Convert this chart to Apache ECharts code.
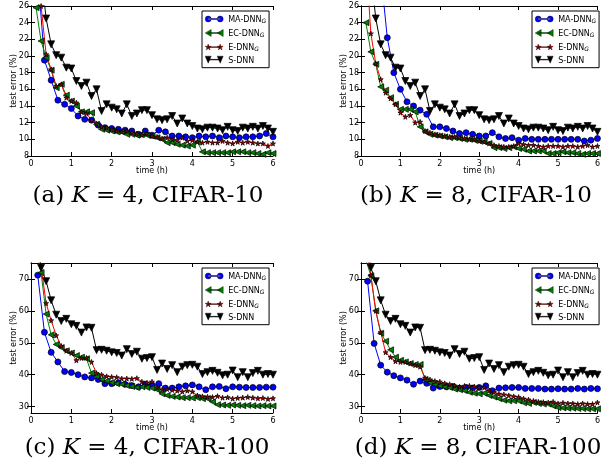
<!DOCTYPE html>
<html><head><meta charset="utf-8">
<script src="https://cdn.jsdelivr.net/npm/echarts@6/dist/echarts.min.js"></script>
<style>html,body{margin:0;padding:0;background:#fff}#c{width:603px;height:470px}</style>
</head><body><div id="c"></div>
<script>
// time samples (hours)
const T8 = [0.125,0.25,0.375,0.5,0.625,0.75,0.875,1,1.125,1.25,1.375,1.5,1.625,1.75,1.875,2,2.125,2.25,2.375,2.5,2.625,2.75,2.875,3,3.125,3.25,3.375,3.5,3.625,3.75,3.875,4,4.125,4.25,4.375,4.5,4.625,4.75,4.875,5,5.125,5.25,5.375,5.5,5.625,5.75,5.875,6];
const T6 = [0.167,0.333,0.5,0.667,0.833,1,1.167,1.333,1.5,1.667,1.833,2,2.167,2.333,2.5,2.667,2.833,3,3.167,3.333,3.5,3.667,3.833,4,4.167,4.333,4.5,4.667,4.833,5,5.167,5.333,5.5,5.667,5.833,6];

const xTicks = [0,1,2,3,4,5,6];
const yTicks10 = [8,10,12,14,16,18,20,22,24,26];
const yTicks100 = [30,40,50,60,70];

// CIFAR-10
const S10 = [40,30,24.5,21.4,20.1,19.8,18.6,18.5,17.0,16.4,16.8,15.2,16.0,13.4,14.2,13.8,13.6,13.1,14.2,12.8,13.1,13.5,13.5,12.9,12.4,12.3,12.4,12.8,11.9,12.5,11.9,11.6,11.3,11.2,11.4,11.4,11.3,11.1,11.5,11.1,11.0,11.4,11.3,11.5,11.3,11.6,11.3,10.9];
const MA_a = [30,19.5,17.1,14.7,14.2,13.7,12.8,12.4,12.3,11.7,11.4,11.3,11.2,11.1,11.0,10.6,11.0,10.5,11.1,10.9,10.4,10.4,10.3,10.2,10.4,10.3,10.4,10.2,10.4,10.3,10.2,10.3,10.3,10.4,10.7,10.3];
const EC_a = [25.8,21.8,19.8,18.3,16.2,16.6,15.3,14.6,14.0,13.3,13.3,13.2,11.8,11.2,11.1,11.0,10.9,10.9,10.6,10.6,10.5,10.6,10.5,10.4,10.2,10.0,9.6,9.6,9.4,9.3,9.2,9.3,9.7,8.5,8.4,8.4,8.4,8.4,8.4,8.5,8.5,8.5,8.4,8.4,8.3,8.2,8.4,8.3];
const E_a = [40,26,20.2,18.4,16.4,16.6,15.0,14.6,14.4,13.3,13.1,12.3,11.9,11.5,11.4,11.2,11.0,10.9,11.0,10.8,10.7,10.5,10.7,10.4,10.3,10.1,10.2,10.0,9.9,10.2,9.8,9.9,9.7,9.6,9.7,9.6,9.6,9.8,9.6,9.5,9.7,9.6,9.7,9.6,9.5,9.5,9.2,9.5];
const MA_b = [60,40,30,22.2,18.0,16.0,14.5,14.0,13.5,13.0,11.5,11.5,11.3,11.0,10.7,10.8,10.6,10.4,10.4,10.8,10.3,10.1,10.2,9.9,10.1,10.0,10.0,10.0,10.0,10.0,10.0,10.0,10.0,9.8,9.9,10.1];
const EC_b = [24.0,20.5,19.0,16.3,15.9,15.0,14.2,13.6,13.6,13.6,13.3,11.5,10.9,10.6,10.5,10.4,10.3,10.2,10.2,10.1,10.0,10.0,9.9,9.8,9.7,9.5,9.0,9.0,8.9,9.0,9.1,8.9,8.8,8.6,8.6,8.6,8.6,8.3,8.3,8.4,8.5,8.4,8.4,8.3,8.2,8.3,8.3,8.3];
const E_b = [32,22.7,19.1,17.2,15.6,14.9,14.2,13.2,12.7,12.9,12.0,12.1,11.0,10.8,10.6,10.5,10.4,10.3,10.3,10.2,10.1,10.0,10.0,9.8,9.7,9.5,9.3,9.2,9.1,9.1,9.2,9.5,9.4,9.3,9.3,9.2,9.1,9.2,9.2,9.2,9.1,9.2,9.2,9.1,9.2,9.3,9.1,9.2];

// CIFAR-100
const S100 = [85,73.5,69.3,63.3,58.8,56.8,57.5,55.8,55.3,53.2,54.8,54.7,47.7,47.8,47.5,47.0,46.8,46.0,48.0,46.5,47.2,45.0,45.2,45.5,41.5,43.5,41.8,43.0,40.8,42.5,43.0,43.1,42.5,40.2,40.8,41.2,40.6,39.8,40.0,41.3,39.2,40.8,39.2,40.5,41.2,40.0,40.2,40.0];
const MA_c = [71.2,53.3,47,44,41,40.7,40,39.3,39,38.5,37.2,37.2,37.5,37,36.6,36.2,37.0,36.8,37.2,35.8,35.8,36.2,36.5,36.8,36.2,35.3,36.2,36.3,35.6,36.2,36.1,36,36,36,36.1,36.1];
const EC_c = [80,72,59,52.5,49.5,48.5,47.5,46.8,46,45.5,45.0,40.5,39.5,38.5,38,37.5,37.2,37,36.6,36.3,36,36.2,36,35.8,35.3,34,33.5,33.2,33,32.8,32.8,32.7,32.8,32.5,32.5,31.5,30.6,30.5,30.4,30.5,30.4,30.3,30.4,30.3,30.2,30.3,30.2,30.2];
const E_c = [85,74,62.4,57,52.3,49,47.5,46.8,44.5,45.2,45.3,44,40.5,40,39.5,39.3,39.2,38.8,38.8,38.7,38.9,37.8,37.5,37.8,36,35.3,35.5,35.2,35,34.7,35.0,34.7,33.5,33.2,33.1,33.0,33.3,32.8,32.9,32.5,32.7,32.8,33,32.8,32.6,32.7,32.4,32.6];
const MA_d = [69.3,49.8,43,40.8,39.7,39.0,38.3,37.0,38.0,37.3,35.8,36.3,36.2,36.3,35.8,36.0,35.8,36.0,36.5,35.0,35.8,35.9,36.0,36.0,35.7,35.7,35.7,35.5,35.5,35.6,35.5,35.5,35.7,35.5,35.7,35.6];
const EC_d = [76,71,60,53,50.5,47.8,45.5,44.5,44,43.5,43.2,43.2,38.5,37.5,37,36.5,36.2,36,35.5,35.3,35,34.5,34.2,34.0,34.2,33.5,33.0,32.5,32.0,31.8,31.8,31.8,31.2,31.0,31.3,31.0,30.8,30.8,30.2,29.7,29.6,29.5,29.5,29.4,29.4,29.3,29.3,29.3];
const E_d = [80,71.2,60,53.3,47,45.5,44.2,44,44,43.5,43,42.5,39,38.5,38,37.8,37.3,37.0,36.6,36.2,36.5,36.5,36.3,36.0,36.0,35.0,34.5,34.0,33.8,33.5,33.2,33.0,32.5,32.2,31.8,31.5,31.4,31.3,31.5,31.0,31.2,31.0,31.0,30.8,31.0,30.8,30.8,31.3];

const seriesNames = ['MA-DNN','EC-DNN','E-DNN','S-DNN'];
const captions = [['(a) ','4','CIFAR-10'],['(b) ','8','CIFAR-10'],['(c) ','4','CIFAR-100'],['(d) ','8','CIFAR-100']];

const panels = [
  {left:31, top:6, ymin:8, ymax:26, yt:yTicks10, data:[[T6,MA_a],[T8,EC_a],[T8,E_a],[T8,S10]], cap:[148,196]},
  {left:361, top:6, ymin:8, ymax:26, yt:yTicks10, data:[[T6,MA_b],[T8,EC_b],[T8,E_b],[T8,S10]], cap:[476,196]},
  {left:31, top:263, ymin:28, ymax:75, yt:yTicks100, data:[[T6,MA_c],[T8,EC_c],[T8,E_c],[T8,S100]], cap:[147,448]},
  {left:361, top:263, ymin:28, ymax:75, yt:yTicks100, data:[[T6,MA_d],[T8,EC_d],[T8,E_d],[T8,S100]], cap:[478,448]}
];

const STAR = 'path://M50,0L61,35L98,35L68,57L79,91L50,70L21,91L32,57L2,35L39,35Z';
const styles = [
  {color:'#0000ff', fill:'#0000ff', symbol:'circle', size:6, rot:0},
  {color:'#008000', fill:'#008000', symbol:'triangle', size:6, rot:90},
  {color:'#ff0000', fill:'#a00000', symbol:STAR, size:5, rot:0},
  {color:'#000000', fill:'#000000', symbol:'triangle', size:7, rot:180}
];
const legendIcons = [
  'path://M3,3.6H15V4.4H3Z M0,4A3,3,0,1,0,6,4A3,3,0,1,0,0,4Z M12,4A3,3,0,1,0,18,4A3,3,0,1,0,12,4Z',
  'path://M3,3.6H15V4.4H3Z M0,4L6,0.5L6,7.5Z M12,4L18,0.5L18,7.5Z',
  'path://M3,3.6H15V4.4H3Z M3,1L3.8,3.2L6,3.2L4.2,4.6L4.9,6.8L3,5.5L1.1,6.8L1.8,4.6L0,3.2L2.2,3.2Z M15,1L15.8,3.2L18,3.2L16.2,4.6L16.9,6.8L15,5.5L13.1,6.8L13.8,4.6L12,3.2L14.2,3.2Z',
  'path://M3,3.6H15V4.4H3Z M0,0.5L6,0.5L3,7.5Z M12,0.5L18,0.5L15,7.5Z'
];

const FONT = 'DejaVu Sans';
const grid = [], xAxis = [], yAxis = [], series = [], legend = [], graphic = [];
const tickStyle = {inside:true, length:4, lineStyle:{color:'#000', width:1}};
panels.forEach((p, gi) => {
  grid.push({left:p.left, top:p.top, width:242, height:150, show:false});
  xAxis.push({type:'value', gridIndex:gi, min:0, max:6, interval:1,
    axisLine:{lineStyle:{color:'#000', width:1}}, axisTick:tickStyle,
    axisLabel:{fontSize:8, color:'#000', margin:4, fontFamily:FONT},
    splitLine:{show:false},
    name:'time (h)', nameLocation:'middle', nameGap:11, nameMoveOverlap:false,
    nameTextStyle:{fontSize:8, color:'#000', fontFamily:FONT}});
  xAxis.push({type:'value', gridIndex:gi, position:'top', min:0, max:6, interval:1,
    axisLine:{lineStyle:{color:'#000', width:1}}, axisTick:tickStyle,
    axisLabel:{show:false}, splitLine:{show:false}});
  yAxis.push({type:'value', gridIndex:gi, min:p.ymin, max:p.ymax,
    axisLine:{lineStyle:{color:'#000', width:1}},
    axisTick:Object.assign({customValues:p.yt}, tickStyle),
    axisLabel:{fontSize:8, color:'#000', margin:2, fontFamily:FONT, customValues:p.yt},
    splitLine:{show:false},
    name:'test error (%)', nameLocation:'middle', nameGap:13, nameMoveOverlap:false,
    nameTextStyle:{fontSize:8, color:'#000', fontFamily:FONT}});
  yAxis.push({type:'value', gridIndex:gi, position:'right', min:p.ymin, max:p.ymax,
    axisLine:{lineStyle:{color:'#000', width:1}},
    axisTick:Object.assign({customValues:p.yt}, tickStyle),
    axisLabel:{show:false}, splitLine:{show:false}});
  p.data.forEach((d, si) => {
    const st = styles[si];
    series.push({
      type:'line', name:seriesNames[si], xAxisIndex:gi*2, yAxisIndex:gi*2,
      data:d[0].map((t, i) => [t, d[1][i]]),
      symbol:st.symbol, symbolSize:st.size, symbolRotate:st.rot, showAllSymbol:true,
      clip:true, animation:false,
      lineStyle:{color:st.color, width:1},
      itemStyle:{color:st.fill, borderColor:'#000', borderWidth:0.7},
      emphasis:{disabled:true}
    });
  });
  legend.push({
    left:p.left + 171, top:p.top + 5, orient:'vertical',
    backgroundColor:'#fff', borderColor:'#000', borderWidth:1,
    padding:[3,3,3,3], itemGap:4, itemWidth:18, itemHeight:8,
    selectedMode:false,
    data:seriesNames.map((n, i) => ({name:n, icon:legendIcons[i],
      itemStyle:{color:styles[i].fill, borderColor:'#000', borderWidth:0.4}})),
    formatter: n => n === 'S-DNN' ? '{n|S-DNN}' : '{n|' + n + '}{g|G}',
    textStyle:{fontSize:8, color:'#000', fontFamily:FONT,
      rich:{n:{fontSize:8, fontFamily:FONT, color:'#000', verticalAlign:'bottom', lineHeight:10},
            g:{fontSize:6, fontFamily:FONT, fontStyle:'italic', color:'#000', verticalAlign:'bottom', lineHeight:6, padding:[4,0,0,0]}}}
  });
  const c = captions[gi];
  graphic.push({type:'text', x:p.cap[0], y:p.cap[1],
    style:{text:'{r|' + c[0] + '}{k|K}{r| = ' + c[1] + ', ' + c[2] + '}',
      align:'center', verticalAlign:'middle',
      rich:{r:{fontFamily:'DejaVu Serif', fontSize:23, fill:'#000'},
            k:{fontFamily:'DejaVu Serif', fontStyle:'italic', fontSize:23, fill:'#000'}}}});
});

const chart = echarts.init(document.getElementById('c'));
chart.setOption({animation:false, backgroundColor:'#fff', grid, xAxis, yAxis, series, legend, graphic});
</script>
</body></html>
